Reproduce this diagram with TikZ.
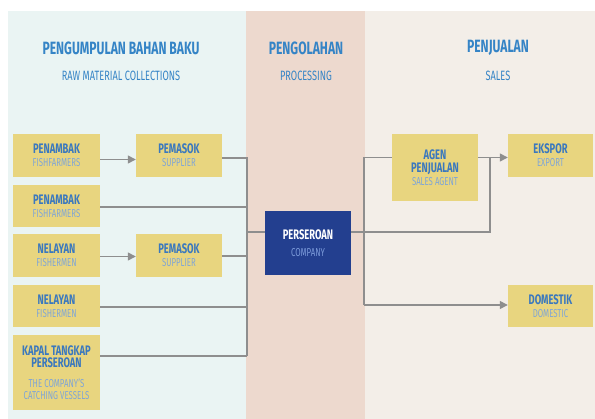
\documentclass[tikz,border=0pt]{standalone}
\usepackage{fontspec}
\setmainfont[FakeStretch=0.68]{Fira Sans}
\usetikzlibrary{arrows.meta,calc}
\definecolor{leftbg}{HTML}{EAF4F3}
\definecolor{midbg}{HTML}{EDD9CE}
\definecolor{rightbg}{HTML}{F3EEE8}
\definecolor{boxy}{HTML}{E8D57F}
\definecolor{compblue}{HTML}{233F8F}
\definecolor{headblue}{HTML}{3584C6}
\definecolor{mainblue}{HTML}{3A78BE}
\definecolor{subblue}{HTML}{7FA5D6}
\definecolor{compsub}{HTML}{7C9BDA}
\definecolor{lgray}{HTML}{8E8E8E}
\newcommand\mtxt[1]{{\fontsize{13.8}{13}\selectfont\bfseries\color{mainblue}#1}}
\newcommand\stxt[1]{{\fontsize{11.5}{11}\selectfont\color{subblue}#1}}
\tikzset{
  ybox/.style={fill=boxy, draw=none, align=center, inner sep=0pt, minimum width=87pt},
  conn/.style={draw=lgray, line width=1.4pt},
  arr/.style={conn, -{Triangle[length=8pt,width=8pt]}},
  head/.style={font=\fontsize{17.8}{18}\selectfont\bfseries, text=headblue, inner sep=0pt},
  subhead/.style={font=\fontsize{13.5}{13}\selectfont, text=headblue, inner sep=0pt}
}
\begin{document}
\begin{tikzpicture}[x=1pt,y=-1pt]
\useasboundingbox (0,0) rectangle (595,419);
\fill[white] (0,0) rectangle (595,419);
\fill[leftbg] (8,11) rectangle (246,419);
\fill[midbg] (246,11) rectangle (365,419);
\fill[rightbg] (365,11) rectangle (595,419);

\node[head] (h1) at (121,48) {PENGUMPULAN BAHAN BAKU};
\node[subhead] (h1s) at (121,76) {RAW MATERIAL COLLECTIONS};
\node[head] (h2) at (306,48) {PENGOLAHAN};
\node[subhead] (h2s) at (306,76) {PROCESSING};
\node[head] (h3) at (498,48) {PENJUALAN};
\node[subhead] (h3s) at (498,76) {SALES};

\node[ybox, minimum height=43pt] (b1) at (56.5,155.5) {\mtxt{PENAMBAK}\\[1pt]\stxt{FISHFARMERS}};
\node[ybox, minimum height=42pt] (b2) at (56.5,206) {\mtxt{PENAMBAK}\\[1pt]\stxt{FISHFARMERS}};
\node[ybox, minimum height=43pt] (b3) at (56.5,255.5) {\mtxt{NELAYAN}\\[1pt]\stxt{FISHERMEN}};
\node[ybox, minimum height=42pt] (b4) at (56.5,306) {\mtxt{NELAYAN}\\[1pt]\stxt{FISHERMEN}};
\node[ybox, minimum height=75pt] (b5) at (56.5,372.5) {\mtxt{KAPAL TANGKAP}\\[0.5pt]\mtxt{PERSEROAN}\\[8pt]\stxt{THE COMPANY'S}\\[0pt]\stxt{CATCHING VESSELS}};
\node[ybox, minimum width=86pt, minimum height=43pt] (s1) at (179,155.5) {\mtxt{PEMASOK}\\[1pt]\stxt{SUPPLIER}};
\node[ybox, minimum width=86pt, minimum height=43pt] (s2) at (179,255.5) {\mtxt{PEMASOK}\\[1pt]\stxt{SUPPLIER}};

\node[fill=compblue, minimum width=86pt, minimum height=64pt, align=center, inner sep=0pt] (co) at (308,243)
  {{\fontsize{13.8}{13}\selectfont\bfseries\color{white}PERSEROAN}\\[5pt]{\fontsize{11.5}{11}\selectfont\color{compsub}COMPANY}};

\node[ybox, minimum width=86pt, minimum height=67pt] (ag) at (435,167.5) {\mtxt{AGEN}\\[0.5pt]\mtxt{PENJUALAN}\\[1pt]\stxt{SALES AGENT}};
\node[ybox, minimum width=85pt, minimum height=43pt] (ex) at (550.5,155.5) {\mtxt{EKSPOR}\\[1pt]\stxt{EXPORT}};
\node[ybox, minimum width=85pt, minimum height=42pt] (dm) at (550.5,306) {\mtxt{DOMESTIK}\\[1pt]\stxt{DOMESTIC}};

% left connectors
\coordinate (jbot) at (247,356);
\coordinate (jmid) at (247,232);
\draw[arr] ([yshift=-4pt]b1.east) -- ([yshift=-4pt]s1.west);
\draw[arr] ([yshift=-1pt]b3.east) -- ([yshift=-1pt]s2.west);
\draw[conn] ([yshift=-2.5pt]s1.east) -| (jbot);
\draw[conn] ([yshift=-1pt]b2.east) -- ([yshift=-1pt]b2.east -| jbot);
\draw[conn] ([yshift=-0.5pt]s2.east) -- ([yshift=-0.5pt]s2.east -| jbot);
\draw[conn] ([yshift=-1pt]b4.east) -- ([yshift=-1pt]b4.east -| jbot);
\draw[conn] ([yshift=16.5pt]b5.east) -- (jbot);
\draw[conn] (jmid) -- (jmid -| co.west);

% right connectors
\coordinate (ra) at (364,157.5);
\coordinate (rb) at (364,305);
\coordinate (rc) at (490,157.5);
\coordinate (rm) at (490,232);
\draw[conn] (ra) -- (rb);
\draw[conn] (ra) -- (ra -| ag.west);
\draw[arr] (ra -| ag.east) -- (ra -| ex.west);
\draw[conn] (rm -| co.east) -- (rm) -- (rc);
\draw[arr] (rb) -- (rb -| dm.west);
\end{tikzpicture}
\end{document}
